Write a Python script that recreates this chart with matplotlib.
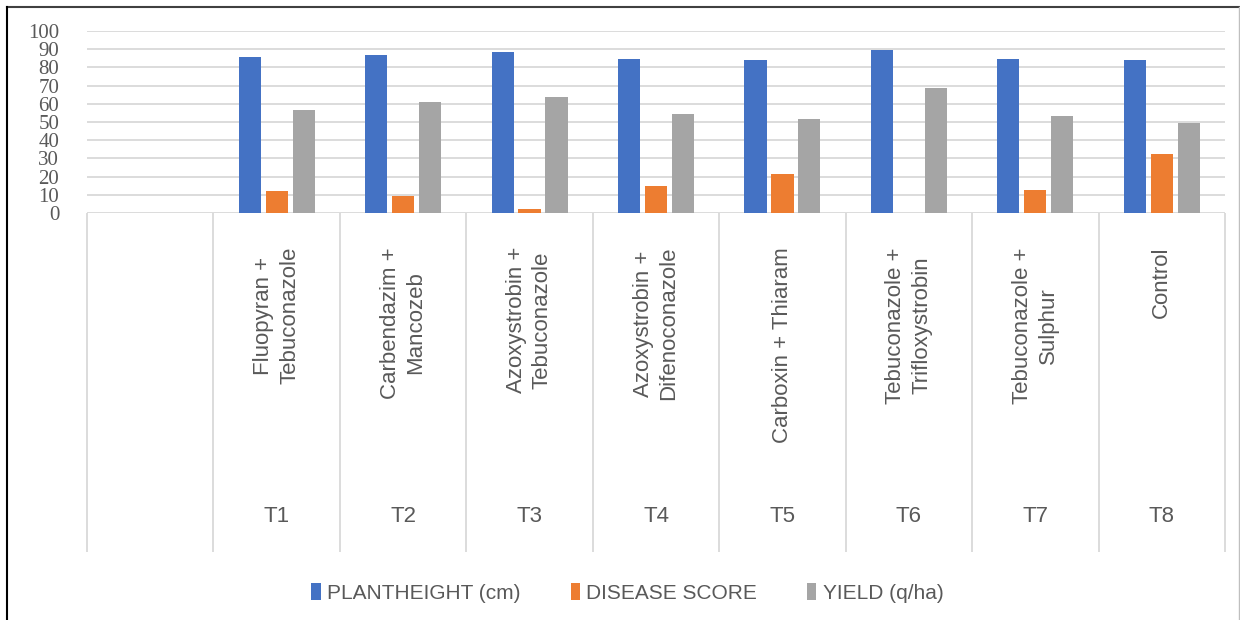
import numpy as np
import matplotlib
matplotlib.use("Agg")
import matplotlib.pyplot as plt
from matplotlib import font_manager
from matplotlib.lines import Line2D

# pick a narrow sans (Calibri-like) if present
names = {f.name for f in font_manager.fontManager.ttflist}
SANS = "Liberation Sans Narrow" if "Liberation Sans Narrow" in names else "Liberation Sans"
SERIF = "Liberation Serif" if "Liberation Serif" in names else "DejaVu Serif"
TXT = "#595959"

codes = ["", "T1", "T2", "T3", "T4", "T5", "T6", "T7", "T8"]
treatments = ["",
              "Fluopyran +\nTebuconazole",
              "Carbendazim +\nMancozeb",
              "Azoxystrobin +\nTebuconazole",
              "Azoxystrobin +\nDifenoconazole",
              "Carboxin + Thiaram",
              "Tebuconazole +\nTrifloxystrobin",
              "Tebuconazole +\nSulphur",
              "Control"]
plant_height = [np.nan, 85.6, 87.0, 88.2, 84.7, 84.0, 89.7, 84.7, 84.0]
disease_score = [np.nan, 12.0, 9.6, 2.2, 15.1, 21.5, 0.0, 12.5, 32.6]
yield_qha = [np.nan, 56.7, 60.8, 63.9, 54.4, 51.9, 68.7, 53.4, 49.7]
yticks = list(range(0, 101, 10))

series = [("PLANTHEIGHT (cm)", plant_height, "#4472C4"),
          ("DISEASE SCORE", disease_score, "#ED7D31"),
          ("YIELD (q/ha)", yield_qha, "#A5A5A5")]

fig = plt.figure(figsize=(12.4, 6.2), dpi=100, facecolor="white")
ax = fig.add_axes([87 / 1240, (620 - 213) / 620, (1225 - 87) / 1240, 182 / 620])

x = np.arange(len(codes))
w = 0.175
offs = [-0.213, 0.0, 0.213]
for (name, vals, col), o in zip(series, offs):
    ax.bar(x + o, vals, width=w, color=col, label=name, zorder=3)

ax.set_xlim(-0.5, len(codes) - 0.5)
ax.set_ylim(0, 100)
ax.set_yticks(yticks)
ax.set_yticklabels([str(v) for v in yticks], fontsize=15, family=SERIF, color=TXT)
ax.tick_params(axis="y", length=0, pad=20)
ax.set_xticks([])
for s in ax.spines.values():
    s.set_visible(False)
for v in yticks:
    ax.axhline(v, color="#d9d9d9", lw=1.3, zorder=1)

# category boxes below the axis
px = 1.82  # pixels per data unit on y
ax.vlines(np.arange(len(codes) + 1) - 0.5, 0, -(552 - 213) / px,
          color="#d9d9d9", lw=1.3, clip_on=False)
for i in range(len(codes)):
    ax.text(i, -(247 - 213) / px, treatments[i], rotation=90, ha="center", va="top",
            multialignment="center", fontsize=16, family=SANS, color=TXT,
            linespacing=1.3, clip_on=False)
    ax.text(i, -(517 - 213) / px, codes[i], ha="center", va="center",
            fontsize=16, family=SANS, color=TXT, clip_on=False)

leg = fig.legend(loc="center", bbox_to_anchor=(0.506, 0.044), ncol=3, frameon=False,
                 prop={"family": SANS, "size": 15}, handlelength=0.45, handleheight=0.9,
                 handletextpad=0.3, columnspacing=2.4)
for t in leg.get_texts():
    t.set_color(TXT)

# outer frame
fig.add_artist(Line2D([6.5 / 1240, 1239 / 1240], [1 - 7 / 620] * 2, color="#404040", lw=1.5))
fig.add_artist(Line2D([6.5 / 1240] * 2, [0, 1 - 7 / 620], color="black", lw=1.5))
fig.add_artist(Line2D([1239 / 1240] * 2, [0, 1 - 7 / 620], color="#bfbfbf", lw=1))

fig.savefig("out.png", dpi=100, facecolor="white")
